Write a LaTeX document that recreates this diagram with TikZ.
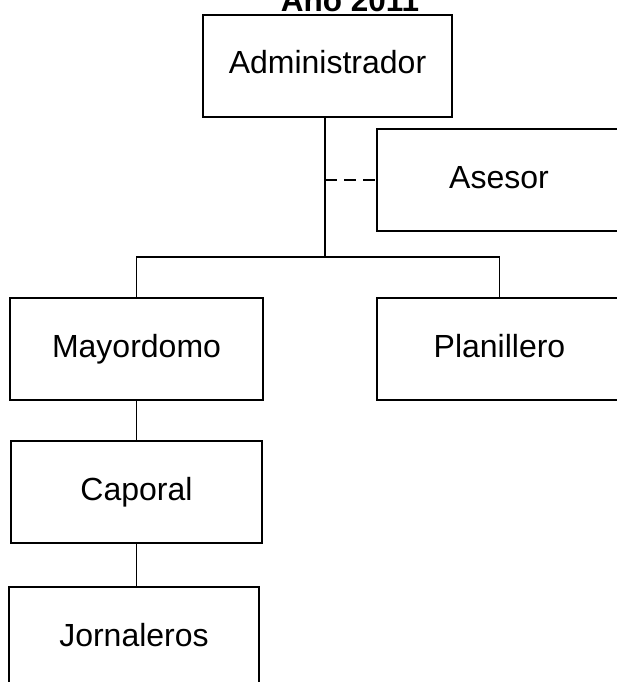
\documentclass[tikz,border=0pt]{standalone}
\usepackage{fontspec}
\setmainfont{Liberation Sans}
\begin{document}
\begin{tikzpicture}[x=1pt,y=-1pt,
  box/.style={draw, line width=1.7pt, inner sep=0pt, minimum height=102pt,
    text height=23pt, text depth=7pt,
    font=\fontsize{32}{38}\selectfont},
  link/.style={line width=1.7pt},
  dlink/.style={line width=1.7pt, dash pattern=on 12pt off 7pt}]
\useasboundingbox (0,0) rectangle (617,682);
\clip (0,0) rectangle (617,682);
\node[font=\bfseries\fontsize{31.5}{36}\selectfont, anchor=base] (title) at (350,12) {Año 2011};
\node[box, minimum width=249pt] (admin) at (327.5,66) {Administrador};
\node[box, minimum width=244pt] (asesor) at (499,180) {Asesor};
\node[box, minimum width=253pt] (mayor) at (136.5,349) {Mayordomo};
\node[box, minimum width=245pt] (plan) at (499.5,349) {Planillero};
\node[box, minimum width=251pt] (capo) at (136.5,492) {Caporal};
\node[box, minimum width=250pt] (jorn) at (134,638) {Jornaleros};
\coordinate (hub) at (325,257);
\draw[link] (admin.south -| hub) -- (hub);
\draw[link] (mayor.north) -- (mayor.north |- hub) -- (plan.north |- hub) -- (plan.north);
\draw[dlink] (asesor.west -| hub) -- (asesor.west);
\draw[link] (mayor.south) -- (capo.north);
\draw[link] (capo.south) -- (jorn.north -| capo.south);
\end{tikzpicture}
\end{document}
